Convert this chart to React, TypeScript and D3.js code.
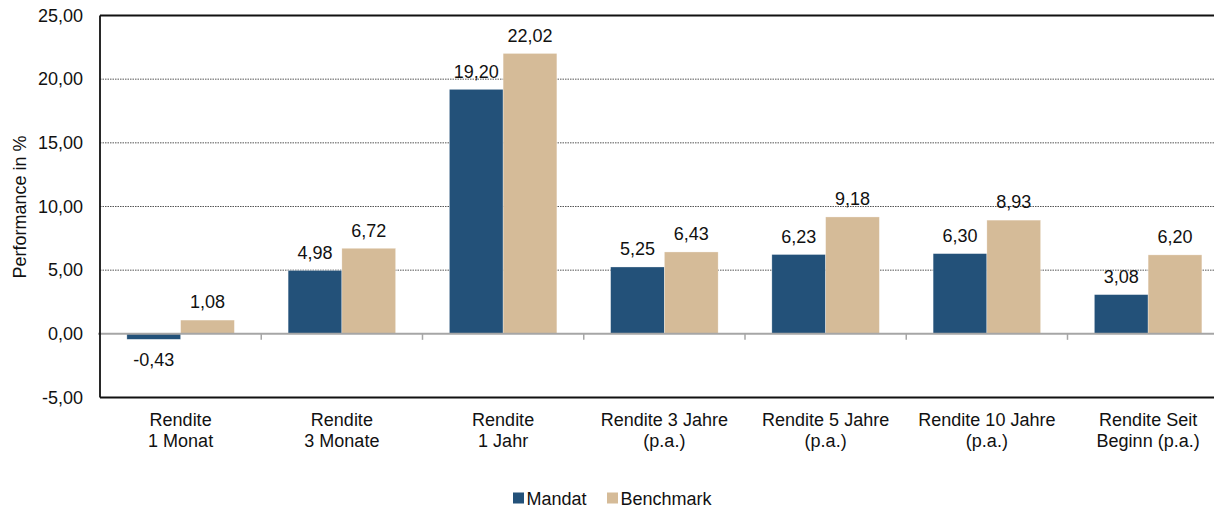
import React from "react";
import * as d3 from "d3";

const categories: string[][] = [
  ["Rendite", "1 Monat"],
  ["Rendite", "3 Monate"],
  ["Rendite", "1 Jahr"],
  ["Rendite 3 Jahre", "(p.a.)"],
  ["Rendite 5 Jahre", "(p.a.)"],
  ["Rendite 10 Jahre", "(p.a.)"],
  ["Rendite Seit", "Beginn (p.a.)"],
];
const seriesNames = ["Mandat", "Benchmark"];
const mandat = [-0.43, 4.98, 19.2, 5.25, 6.23, 6.3, 3.08];
const benchmark = [1.08, 6.72, 22.02, 6.43, 9.18, 8.93, 6.2];
const yTicks = [-5, 0, 5, 10, 15, 20, 25];
const colors = ["#235179", "#d5bb98"];

const W = 1214;
const H = 510;
const FONT = "'Liberation Sans', Arial, sans-serif";
const FS = 18;

const fmt = (v: number) => v.toFixed(2).replace(".", ",");

export default function App() {
  const left = 100;
  const top = 15.5;
  const bottom = 397.5;
  const bandW = 161.25;
  const idx = categories.map((_, i) => String(i));
  const x = d3
    .scaleBand<string>()
    .domain(idx)
    .range([left, left + bandW * categories.length])
    .padding(0);
  const xs = d3
    .scaleBand<string>()
    .domain(seriesNames)
    .range([bandW / 6, (bandW * 5) / 6])
    .padding(0);
  const y = d3.scaleLinear().domain([-5, 25]).range([bottom, top]);
  const series = [mandat, benchmark];
  const y0 = y(0);

  return (
    <svg
      width={W}
      height={H}
      style={{ position: "absolute", left: 0, top: 0, background: "#fff" }}
      fontFamily={FONT}
    >
      {/* gridlines */}
      {yTicks
        .filter((t) => t !== 0 && t !== -5 && t !== 25)
        .map((t) => (
          <line
            key={"g" + t}
            x1={left}
            x2={W}
            y1={y(t)}
            y2={y(t)}
            stroke="#555"
            strokeWidth={1}
            strokeDasharray="1.5,1"
          />
        ))}
      {/* bars */}
      {series.map((vals, si) =>
        vals.map((v, i) => {
          const bx = (x(String(i)) as number) + (xs(seriesNames[si]) as number);
          const yy = Math.min(y(v), y0);
          const h = Math.abs(y(v) - y0);
          return (
            <rect
              key={si + "-" + i}
              x={bx}
              y={yy}
              width={xs.bandwidth()}
              height={h}
              fill={colors[si]}
              stroke="#fff"
              strokeOpacity={0.5}
              strokeWidth={0.6}
            />
          );
        })
      )}
      {/* zero line */}
      <line x1={left - 2} x2={W} y1={y0} y2={y0} stroke="#a6a6a6" strokeWidth={2} />
      {idx.slice(1).map((k) => (
        <line
          key={"t" + k}
          x1={x(k)}
          x2={x(k)}
          y1={y0}
          y2={y0 + 6}
          stroke="#a6a6a6"
          strokeWidth={1.5}
        />
      ))}
      {/* frame */}
      <line x1={left} x2={W} y1={top} y2={top} stroke="#111" strokeWidth={1.8} />
      <line x1={left} x2={W} y1={bottom} y2={bottom} stroke="#111" strokeWidth={1.8} />
      <line x1={left} x2={left} y1={top} y2={bottom} stroke="#111" strokeWidth={1.8} />
      {/* y tick labels */}
      {yTicks.map((t) => (
        <text
          key={"yl" + t}
          x={83}
          y={y(t)}
          dy="0.35em"
          textAnchor="end"
          fontSize={FS}
          fill="#111"
        >
          {fmt(t)}
        </text>
      ))}
      <text
        transform={`translate(26,${207}) rotate(-90)`}
        textAnchor="middle"
        fontSize={FS}
        fill="#111"
      >
        Performance in %
      </text>
      {/* data labels */}
      {series.map((vals, si) =>
        vals.map((v, i) => {
          const cx =
            (x(String(i)) as number) +
            (xs(seriesNames[si]) as number) +
            xs.bandwidth() / 2;
          const ly = v >= 0 ? y(v) - 11.7 : y(v) + 26.5;
          return (
            <text
              key={"dl" + si + i}
              x={cx}
              y={ly}
              textAnchor="middle"
              fontSize={FS}
              fill="#111"
            >
              {fmt(v)}
            </text>
          );
        })
      )}
      {/* category labels */}
      {categories.map((lines, i) => (
        <text
          key={"c" + i}
          textAnchor="middle"
          fontSize={FS}
          fill="#111"
        >
          {lines.map((l, j) => (
            <tspan key={j} x={(x(String(i)) as number) + bandW / 2} y={426 + j * 20.5}>
              {l}
            </tspan>
          ))}
        </text>
      ))}
      {/* legend */}
      <rect x={513} y={492.5} width={11} height={11} fill={colors[0]} />
      <text x={526.5} y={504.5} fontSize={FS} fill="#111">
        {seriesNames[0]}
      </text>
      <rect x={607} y={492.5} width={11} height={11} fill={colors[1]} />
      <text x={620.5} y={504.5} fontSize={FS} fill="#111">
        {seriesNames[1]}
      </text>
    </svg>
  );
}
